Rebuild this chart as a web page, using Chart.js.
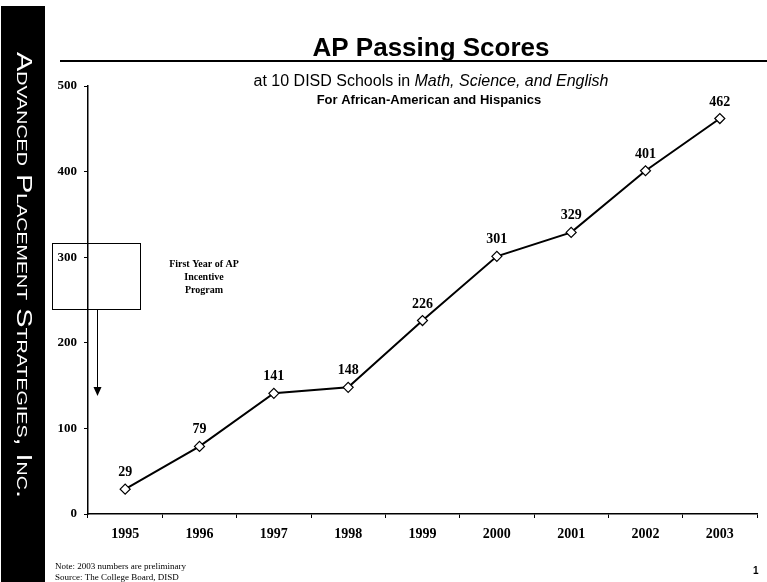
<!DOCTYPE html>
<html>
<head>
<meta charset="utf-8">
<script src="https://cdn.jsdelivr.net/npm/chart.js@4.4.1/dist/chart.umd.min.js"></script>
<style>
  html, body { margin: 0; padding: 0; background: #fff; }
  #wrap { width: 767px; height: 582px; position: relative; }
</style>
</head>
<body>
<div id="wrap"><canvas id="c" width="767" height="582"></canvas></div>
<script>
// ---- data ---------------------------------------------------------
const YEARS  = ["1995", "1996", "1997", "1998", "1999", "2000", "2001", "2002", "2003"];
const PASSED = [29, 79, 141, 148, 226, 301, 329, 401, 462];
const Y_TICKS = [0, 100, 200, 300, 400, 500];

const SERIF = "'Liberation Serif', 'Times New Roman', serif";
const SANS  = "'Liberation Sans', Arial, sans-serif";

// ---- decorations: side bar, titles, labels, note ----------------
const decor = {
  id: "decor",
  beforeDraw(chart) {
    const ctx = chart.ctx;
    ctx.save();
    ctx.fillStyle = "#fff";
    ctx.fillRect(0, 0, chart.width, chart.height);
    ctx.restore();
  },
  afterDraw(chart) {
    const ctx = chart.ctx;
    ctx.save();

    // black side bar with vertical company name
    ctx.fillStyle = "#000";
    ctx.fillRect(1, 6, 44, 576);
    ctx.save();
    ctx.translate(23, 52);
    ctx.rotate(Math.PI / 2);
    ctx.fillStyle = "#fff";
    ctx.textBaseline = "middle";
    ctx.textAlign = "left";
    ctx.font = "small-caps 22px " + SANS;
    const side = "Advanced Placement Strategies, Inc.";
    const w = ctx.measureText(side).width;
    ctx.scale(446 / w, 1);
    ctx.fillText(side, 0, 0);
    ctx.restore();

    // title + rule
    ctx.fillStyle = "#000";
    ctx.textAlign = "center";
    ctx.textBaseline = "alphabetic";
    ctx.font = "bold 26px " + SANS;
    ctx.fillText("AP Passing Scores", 431, 56);
    ctx.fillRect(60, 60, 707, 2);

    // subtitle with italic part
    const a = "at 10 DISD Schools in ";
    const b = "Math, Science, and English";
    ctx.font = "16px " + SANS;
    const wa = ctx.measureText(a).width;
    ctx.font = "italic 16px " + SANS;
    const wb = ctx.measureText(b).width;
    let x0 = 431 - (wa + wb) / 2;
    ctx.textAlign = "left";
    ctx.font = "16px " + SANS;
    ctx.fillText(a, x0, 86);
    ctx.font = "italic 16px " + SANS;
    ctx.fillText(b, x0 + wa, 86);

    ctx.textAlign = "center";
    ctx.font = "bold 13px " + SANS;
    ctx.fillText("For African-American and Hispanics", 429, 104);

    // value labels above the points
    const meta = chart.getDatasetMeta(0);
    ctx.font = "bold 14px " + SERIF;
    meta.data.forEach((pt, i) => {
      ctx.fillText(String(PASSED[i]), pt.x, pt.y - 13);
    });

    // annotation box + arrow
    ctx.strokeStyle = "#000";
    ctx.lineWidth = 1;
    ctx.strokeRect(52.5, 243.5, 88, 66);
    ctx.beginPath();
    ctx.moveTo(97.5, 310);
    ctx.lineTo(97.5, 390);
    ctx.stroke();
    ctx.beginPath();
    ctx.moveTo(93.5, 387);
    ctx.lineTo(101.5, 387);
    ctx.lineTo(97.5, 396);
    ctx.closePath();
    ctx.fill();

    ctx.font = "bold 10px " + SERIF;
    ctx.fillText("First Year of AP", 204, 267);
    ctx.fillText("Incentive", 204, 280);
    ctx.fillText("Program", 204, 293);

    // footnotes
    ctx.textAlign = "left";
    ctx.font = "9px " + SERIF;
    ctx.fillText("Note: 2003 numbers are preliminary", 55, 569);
    ctx.fillText("Source: The College Board, DISD", 55, 580);
    ctx.font = "bold 10px " + SANS;
    ctx.fillText("1", 753, 574);

    ctx.restore();
  },
};

new Chart(document.getElementById("c"), {
  type: "line",
  data: {
    labels: YEARS,
    datasets: [{
      data: PASSED,
      borderColor: "#000",
      borderWidth: 2,
      tension: 0,
      pointStyle: "rectRot",
      pointRadius: 5,
      pointBorderWidth: 1.2,
      pointBackgroundColor: "#fff",
      pointBorderColor: "#000",
    }],
  },
  options: {
    responsive: false,
    animation: false,
    devicePixelRatio: 1,
    layout: { padding: { left: 0, right: 10, top: 86, bottom: 36 } },
    plugins: { legend: { display: false }, tooltip: { enabled: false } },
    scales: {
      x: {
        offset: true,
        grid: { offset: true, drawOnChartArea: false, drawTicks: true, tickLength: 4, color: "#000" },
        border: { display: true, color: "#000", width: 1.5 },
        ticks: { color: "#000", padding: 8, maxRotation: 0, font: { family: SERIF, size: 14, weight: "bold" } },
        afterFit(scale) { scale.height = 32; },
      },
      y: {
        min: 0,
        max: 500,
        afterBuildTicks(scale) { scale.ticks = Y_TICKS.map((v) => ({ value: v })); },
        grid: { drawOnChartArea: false, drawTicks: true, tickLength: 4, color: "#000" },
        border: { display: true, color: "#000", width: 1.5 },
        ticks: { color: "#000", padding: 7, font: { family: SERIF, size: 13, weight: "bold" } },
        afterFit(scale) { scale.width = 88; },
      },
    },
  },
  plugins: [decor],
});
</script>
</body>
</html>
